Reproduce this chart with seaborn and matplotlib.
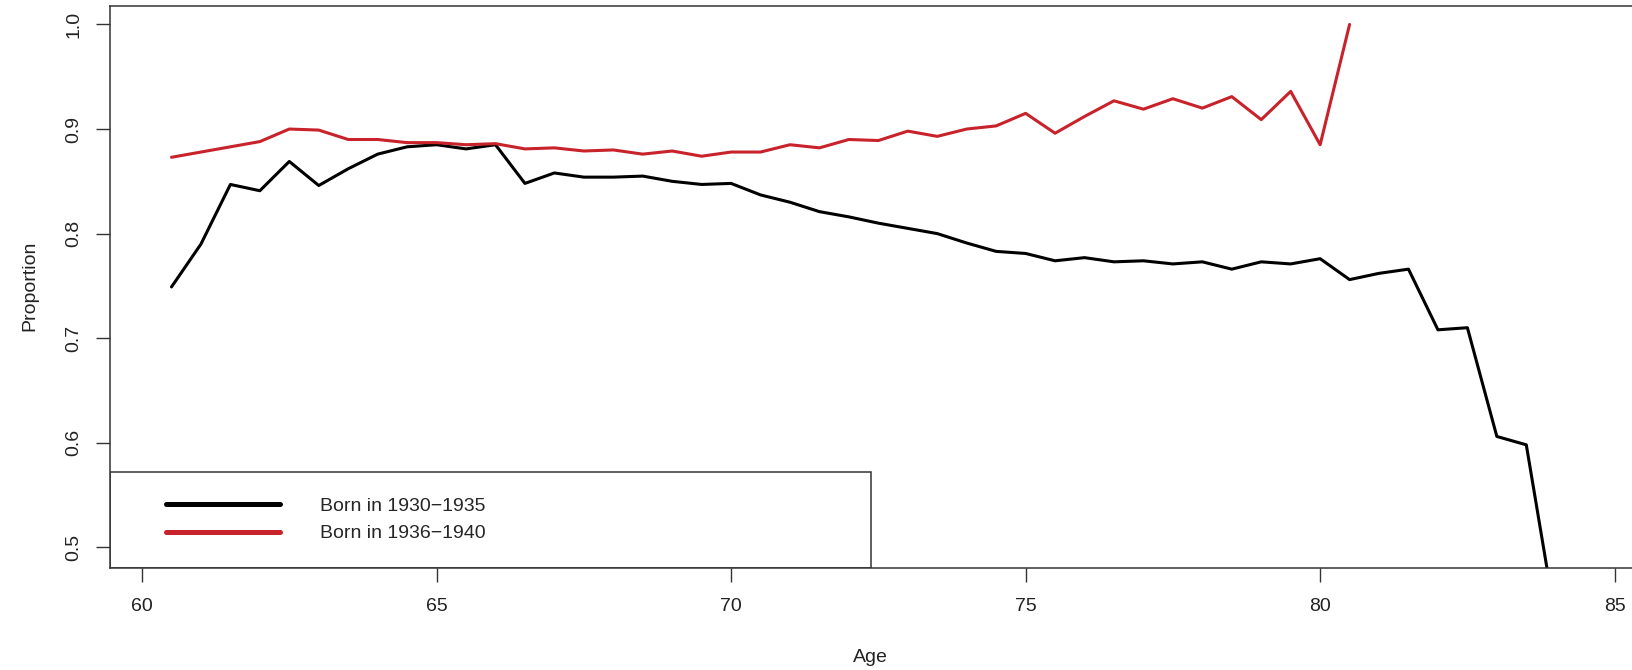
import numpy as np
import pandas as pd
import matplotlib
matplotlib.use("Agg")
import matplotlib.pyplot as plt
from matplotlib.patches import Rectangle
import seaborn as sns

# ages (half-year steps)
ages_1930 = [60.5, 61, 61.5, 62, 62.5, 63, 63.5, 64, 64.5, 65, 65.5, 66, 66.5, 67, 67.5, 68,
             68.5, 69, 69.5, 70, 70.5, 71, 71.5, 72, 72.5, 73, 73.5, 74, 74.5, 75, 75.5, 76,
             76.5, 77, 77.5, 78, 78.5, 79, 79.5, 80, 80.5, 81, 81.5, 82, 82.5, 83, 83.5, 84]
prop_1930 = [0.749, 0.790, 0.847, 0.841, 0.869, 0.846, 0.862, 0.876, 0.883, 0.885, 0.881, 0.885,
             0.848, 0.858, 0.854, 0.854, 0.855, 0.850, 0.847, 0.848, 0.837, 0.830, 0.821, 0.816,
             0.810, 0.805, 0.800, 0.791, 0.783, 0.781, 0.774, 0.777, 0.773, 0.774, 0.771, 0.773,
             0.766, 0.773, 0.771, 0.776, 0.756, 0.762, 0.766, 0.708, 0.710, 0.606, 0.598, 0.430]

ages_1936 = [60.5, 61, 61.5, 62, 62.5, 63, 63.5, 64, 64.5, 65, 65.5, 66, 66.5, 67, 67.5, 68,
             68.5, 69, 69.5, 70, 70.5, 71, 71.5, 72, 72.5, 73, 73.5, 74, 74.5, 75, 75.5, 76,
             76.5, 77, 77.5, 78, 78.5, 79, 79.5, 80, 80.5]
prop_1936 = [0.873, 0.878, 0.883, 0.888, 0.900, 0.899, 0.890, 0.890, 0.887, 0.887, 0.885, 0.886,
             0.881, 0.882, 0.879, 0.880, 0.876, 0.879, 0.874, 0.878, 0.878, 0.885, 0.882, 0.890,
             0.889, 0.898, 0.893, 0.900, 0.903, 0.915, 0.896, 0.912, 0.927, 0.919, 0.929, 0.920,
             0.931, 0.909, 0.936, 0.885, 1.000]

labels = ["Born in 1930\u22121935", "Born in 1936\u22121940"]
colors = ["#000000", "#C8222B"]

df = pd.concat([
    pd.DataFrame({"Age": ages_1930, "Proportion": prop_1930, "cohort": labels[0]}),
    pd.DataFrame({"Age": ages_1936, "Proportion": prop_1936, "cohort": labels[1]}),
])

sns.set_style("white")
plt.rcParams["font.family"] = ["Liberation Sans", "DejaVu Sans"]

fig = plt.figure(figsize=(16.33, 6.7), dpi=100)
ax = fig.add_axes([0.0674, 0.1527, 0.9394, 0.8384])

sns.lineplot(data=df, x="Age", y="Proportion", hue="cohort", palette=colors,
             linewidth=2.2, ax=ax, legend=False, sort=True)

ax.set_xlim(59.457, 85.5)
ax.set_ylim(0.4805, 1.0177)
ax.set_xticks([60, 65, 70, 75, 80, 85])
ax.set_yticks([0.5, 0.6, 0.7, 0.8, 0.9, 1.0])
ax.set_yticklabels(["0.5", "0.6", "0.7", "0.8", "0.9", "1.0"], rotation=90, va="center")
ax.tick_params(axis="both", direction="out", length=10, width=1, color="#333333",
               labelsize=14, labelcolor="#222222", bottom=True, left=True)
ax.tick_params(axis="x", pad=12)
ax.tick_params(axis="y", pad=10)
for s in ax.spines.values():
    s.set_color("#333333")
    s.set_linewidth(1.1)
ax.set_xlabel("")
ax.set_ylabel("")

fig.text(870 / 1633, 1 - 658 / 670, "Age", ha="center", va="center", fontsize=14, color="#222222")
fig.text(30 / 1633, 1 - 286 / 670, "Proportion", ha="center", va="center", rotation=90,
         fontsize=14, color="#222222")

# legend box (R style, bottom left)
ax.add_patch(Rectangle((0, 0), 0.496, 0.171, transform=ax.transAxes, fill=False,
                       edgecolor="#333333", linewidth=1.1, zorder=5))
handles = [plt.Line2D([], [], color=c, linewidth=3.6, solid_capstyle="round") for c in colors]
ax.legend(handles, labels, loc="center left", bbox_to_anchor=(0.0365, 0.085),
          frameon=False, fontsize=14, handlelength=5.85, handletextpad=2.05,
          labelspacing=0.5, borderpad=0, borderaxespad=0)

fig.savefig("out.png", dpi=100)
